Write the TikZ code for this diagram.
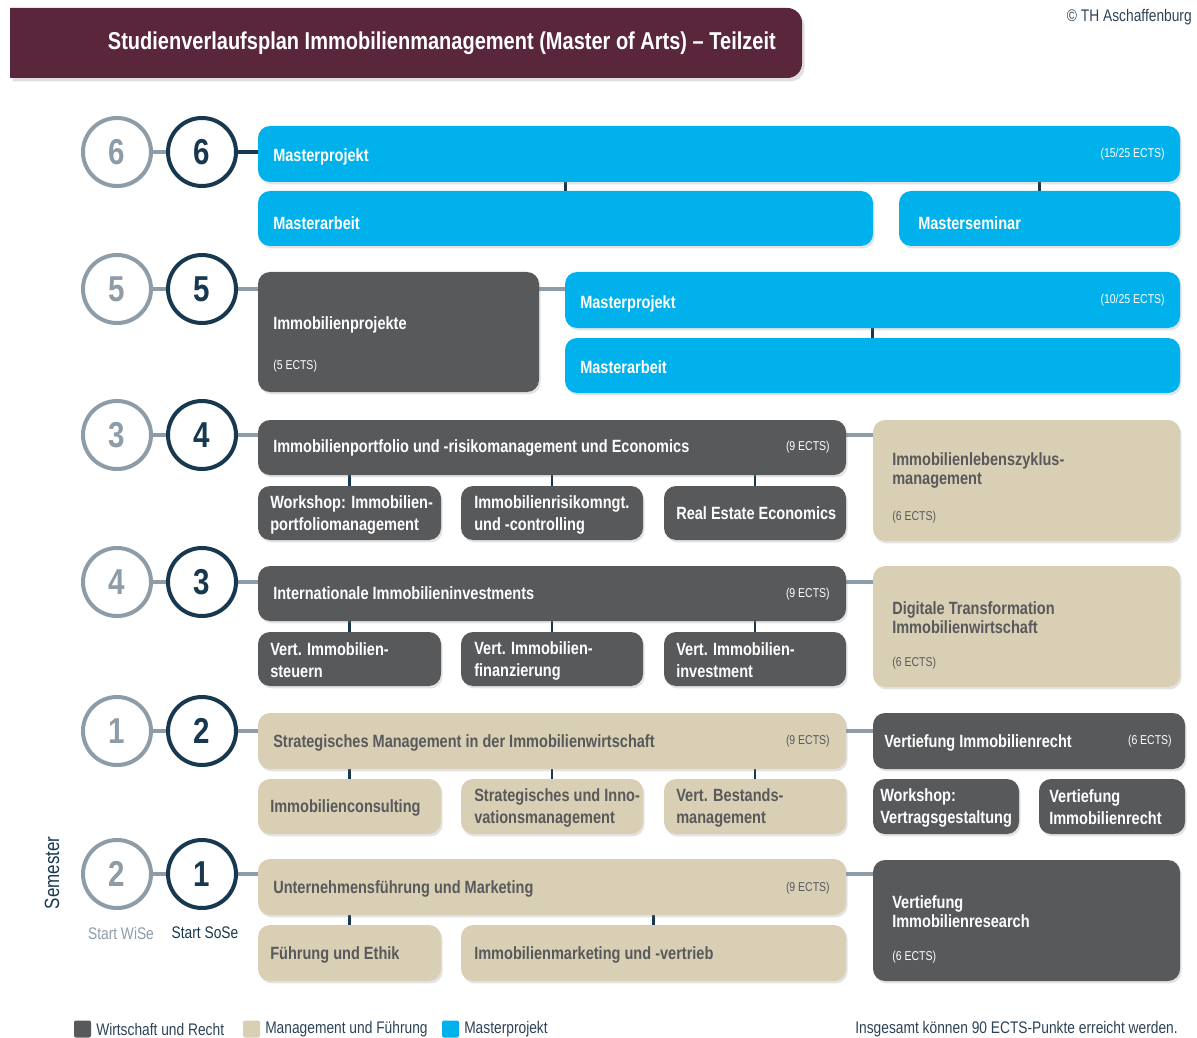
\documentclass[tikz,border=0pt]{standalone}
\usepackage{fontspec}
\setmainfont{Liberation Sans}[FakeStretch=0.82]
\usetikzlibrary{shadows}

\definecolor{wr}{HTML}{58595B}
\definecolor{mf}{HTML}{D9CFB4}
\definecolor{mp}{HTML}{00B1EC}
\definecolor{navy}{HTML}{17384F}
\definecolor{grayline}{HTML}{8E9CA8}
\definecolor{maroon}{HTML}{59263B}
\definecolor{legtext}{HTML}{2D4256}

\pgfdeclarelayer{background}
\pgfsetlayers{background,main}

% box from (x1,y1) to (x2,y2) in pixel coordinates
\newcommand\Bx[6]{\node[#2, minimum width={(#5-#3)*0.75pt}, minimum height={(#6-#4)*0.75pt}] (#1) at (#3,#4) {};}

\begin{document}
\begin{tikzpicture}[x=0.75pt,y=-0.75pt,
  box/.style={rounded corners=9pt, inner sep=0pt, outer sep=0pt, anchor=north west,
    drop shadow={shadow xshift=1.2pt, shadow yshift=-1.8pt, opacity=0.22}},
  wrbox/.style={box, fill=wr},
  mfbox/.style={box, fill=mf},
  mpbox/.style={box, fill=mp},
  lbl/.style={anchor=west, inner sep=0pt, align=left, yshift=-1.2pt,
    font=\bfseries\fontsize{13.3}{16.5}\selectfont},
  wlbl/.style={lbl, text=white},
  glbl/.style={lbl, text=wr},
  tlbl/.style={lbl, font=\bfseries\fontsize{13.3}{14.3}\selectfont},
  ects/.style={anchor=east, inner sep=0pt, font=\fontsize{9.6}{11}\selectfont},
  ectsl/.style={ects, anchor=west},
  semc/.style={circle, minimum size=51pt, inner sep=0pt, line width=3pt, fill=white,
    font=\bfseries\fontsize{27}{27}\selectfont,
    drop shadow={shadow xshift=1pt, shadow yshift=-1.5pt, opacity=0.15}},
  gcirc/.style={semc, draw=grayline, text=grayline},
  dcirc/.style={semc, draw=navy, text=navy},
  vconn/.style={navy, line width=2.2pt},
  gconn/.style={grayline, line width=3pt},
  dconn/.style={navy, line width=3pt},
  legsq/.style={rounded corners=1.5pt, minimum size=12.75pt, inner sep=0pt},
  small/.style={inner sep=0pt, font=\fontsize{12.6}{14}\selectfont}
]
\useasboundingbox (0,0) rectangle (1197,1038);

% title bar
\fill[maroon, drop shadow={shadow xshift=2pt, shadow yshift=-2.5pt, opacity=0.25}]
  (10,78) [sharp corners] -- (10,8) [rounded corners=11pt] -- (802,8) -- (802,78) [sharp corners] -- cycle;
\node[anchor=east, inner sep=0pt, text=white, font=\bfseries\fontsize{18.3}{20}\selectfont]
  (title) at (776,43) {Studienverlaufsplan Immobilienmanagement (Master of Arts) – Teilzeit};
\node[small, anchor=east, text=legtext] (copy) at (1192,17) {© TH Aschaffenburg};

% semester circles
\node[gcirc] (gA) at (117,152) {6};  \node[dcirc] (dA) at (202,152) {6};
\node[gcirc] (gB) at (117,289) {5};  \node[dcirc] (dB) at (202,289) {5};
\node[gcirc] (gC) at (117,435) {3};  \node[dcirc] (dC) at (202,435) {4};
\node[gcirc] (gD) at (117,582) {4};  \node[dcirc] (dD) at (202,582) {3};
\node[gcirc] (gE) at (117,731) {1};  \node[dcirc] (dE) at (202,731) {2};
\node[gcirc] (gF) at (117,874) {2};  \node[dcirc] (dF) at (202,874) {1};
\node[small, text=grayline] (wise) at (121,933) {Start WiSe};
\node[small, text=navy] (sose) at (205,933) {Start SoSe};
\node[inner sep=0pt, rotate=90, text=navy, font=\fontsize{15.5}{16}\selectfont] (sem) at (52,873) {Semester};

% semester 6
\Bx{mpA}{mpbox}{258}{126}{1180}{182}
\Bx{maA}{mpbox}{258}{191}{873}{246}
\Bx{msA}{mpbox}{899}{191}{1180}{246}
\node[wlbl] (mpAt) at (273,155) {Masterprojekt};
\node[ects, text=white] (mpAe) at (1165,154) {(15/25 ECTS)};
\node[wlbl] (maAt) at (273,222) {Masterarbeit};
\node[wlbl] (msAt) at (918,222) {Masterseminar};

% semester 5
\Bx{ipB}{wrbox}{258}{272}{539}{392}
\Bx{mpB}{mpbox}{565}{272}{1180}{328}
\Bx{maB}{mpbox}{565}{338}{1180}{393}
\node[wlbl] (ipBt) at (273,323) {Immobilienprojekte};
\node[ectsl, text=white] (ipBe) at (273,366) {(5 ECTS)};
\node[wlbl] (mpBt) at (580,302) {Masterprojekt};
\node[ects, text=white] (mpBe) at (1165,300) {(10/25 ECTS)};
\node[wlbl] (maBt) at (580,366) {Masterarbeit};

% semester 4 / 3
\Bx{pfC}{wrbox}{258}{420}{846}{475}
\Bx{wsC}{wrbox}{258}{486}{441}{540}
\Bx{rcC}{wrbox}{461}{486}{643}{540}
\Bx{reC}{wrbox}{664}{486}{846}{540}
\Bx{lzC}{mfbox}{873}{420}{1180}{541}
\node[wlbl] (pfCt) at (273,446) {Immobilienportfolio und -risikomanagement und Economics};
\node[ects, text=white] (pfCe) at (830,447) {(9 ECTS)};
\node[wlbl] (wsCt) at (270,513) {Workshop: Immobilien-\\portfoliomanagement};
\node[wlbl] (rcCt) at (474,513) {Immobilienrisikomngt.\\und -controlling};
\node[wlbl] (reCt) at (676,512) {Real Estate Economics};
\node[tlbl, text=wr] (lzCt) at (892,469) {Immobilienlebenszyklus-\\management};
\node[ectsl, text=wr] (lzCe) at (892,517) {(6 ECTS)};

% semester 3 / 4
\Bx{iiD}{wrbox}{258}{566}{846}{621}
\Bx{stD}{wrbox}{258}{632}{441}{686}
\Bx{fiD}{wrbox}{461}{632}{643}{686}
\Bx{ivD}{wrbox}{664}{632}{846}{686}
\Bx{dtD}{mfbox}{873}{566}{1180}{687}
\node[wlbl] (iiDt) at (273,592) {Internationale Immobilieninvestments};
\node[ects, text=white] (iiDe) at (830,594) {(9 ECTS)};
\node[wlbl] (stDt) at (270,659) {Vert. Immobilien-\\steuern};
\node[wlbl] (fiDt) at (474,659) {Vert. Immobilien-\\finanzierung};
\node[wlbl] (ivDt) at (676,659) {Vert. Immobilien-\\investment};
\node[tlbl, text=wr] (dtDt) at (892,616) {Digitale Transformation\\Immobilienwirtschaft};
\node[ectsl, text=wr] (dtDe) at (892,663) {(6 ECTS)};

% semester 2 / 1
\Bx{smE}{mfbox}{258}{713}{846}{769}
\Bx{icE}{mfbox}{258}{779}{441}{834}
\Bx{siE}{mfbox}{461}{779}{643}{834}
\Bx{vbE}{mfbox}{664}{779}{846}{834}
\Bx{viE}{wrbox}{873}{713}{1185}{769}
\Bx{wvE}{wrbox}{873}{779}{1019}{834}
\Bx{vrE}{wrbox}{1039}{779}{1185}{834}
\node[glbl] (smEt) at (273,741) {Strategisches Management in der Immobilienwirtschaft};
\node[ects, text=wr] (smEe) at (830,741) {(9 ECTS)};
\node[glbl] (icEt) at (270,806) {Immobilienconsulting};
\node[glbl] (siEt) at (474,806) {Strategisches und Inno-\\vationsmanagement};
\node[glbl] (vbEt) at (676,806) {Vert. Bestands-\\management};
\node[wlbl] (viEt) at (884,741) {Vertiefung Immobilienrecht};
\node[ects, text=white] (viEe) at (1172,741) {(6 ECTS)};
\node[wlbl] (wvEt) at (880,806) {Workshop:\\Vertragsgestaltung};
\node[wlbl] (vrEt) at (1049,806) {Vertiefung\\Immobilienrecht};

% semester 1 / 2
\Bx{umF}{mfbox}{258}{859}{846}{915}
\Bx{feF}{mfbox}{258}{925}{441}{981}
\Bx{mvF}{mfbox}{461}{925}{846}{981}
\Bx{irF}{wrbox}{873}{860}{1180}{981}
\node[glbl] (umFt) at (273,887) {Unternehmensführung und Marketing};
\node[ects, text=wr] (umFe) at (830,888) {(9 ECTS)};
\node[glbl] (feFt) at (270,953) {Führung und Ethik};
\node[glbl] (mvFt) at (474,953) {Immobilienmarketing und -vertrieb};
\node[tlbl, text=white] (irFt) at (892,910) {Vertiefung\\Immobilienresearch};
\node[ectsl, text=white] (irFe) at (892,957) {(6 ECTS)};

% legend
\node[legsq, fill=wr] (lgA) at (82.5,1029) {};
\node[small, anchor=west, text=legtext] (lgAt) at (96,1029) {Wirtschaft und Recht};
\node[legsq, fill=mf] (lgB) at (251.5,1029) {};
\node[small, anchor=west, text=legtext] (lgBt) at (265,1029) {Management und Führung};
\node[legsq, fill=mp] (lgC) at (450.5,1029) {};
\node[small, anchor=west, text=legtext] (lgCt) at (464,1029) {Masterprojekt};
\node[small, anchor=east, text=legtext] (total) at (1178,1029) {Insgesamt können 90 ECTS-Punkte erreicht werden.};

% connectors
\begin{pgfonlayer}{background}
  \foreach \r in {A,B,C,D,E,F} { \draw[gconn] (g\r.east) -- (d\r.west); }
  \draw[dconn] (dA.east) -- (dA.east -| mpA.west);
  \draw[gconn] (dB.east) -- (dB.east -| ipB.west);
  \draw[gconn] (dC.east) -- (dC.east -| pfC.west);
  \draw[gconn] (dD.east) -- (dD.east -| iiD.west);
  \draw[gconn] (dE.east) -- (dE.east -| smE.west);
  \draw[gconn] (dF.east) -- (dF.east -| umF.west);
  % links to the elective boxes on the right
  \draw[gconn] (ipB.east |- dB) -- (mpB.west |- dB);
  \draw[gconn] (pfC.east |- dC) -- (lzC.west |- dC);
  \draw[gconn] (iiD.east |- dD) -- (dtD.west |- dD);
  \draw[gconn] (smE.east |- dE) -- (viE.west |- dE);
  \draw[gconn] (umF.east |- dF) -- (irF.west |- dF);
  % module parts
  \draw[vconn] (maA.north) -- (maA.north |- mpA.south);
  \draw[vconn] (msA.north) -- (msA.north |- mpA.south);
  \draw[vconn] (maB.north) -- (maB.north |- mpB.south);
  \foreach \s in {wsC,rcC,reC} { \draw[vconn] (\s.north) -- (\s.north |- pfC.south); }
  \foreach \s in {stD,fiD,ivD} { \draw[vconn] (\s.north) -- (\s.north |- iiD.south); }
  \foreach \s in {icE,siE,vbE} { \draw[vconn] (\s.north) -- (\s.north |- smE.south); }
  \foreach \s in {feF,mvF} { \draw[vconn] (\s.north) -- (\s.north |- umF.south); }
\end{pgfonlayer}
\end{tikzpicture}
\end{document}
